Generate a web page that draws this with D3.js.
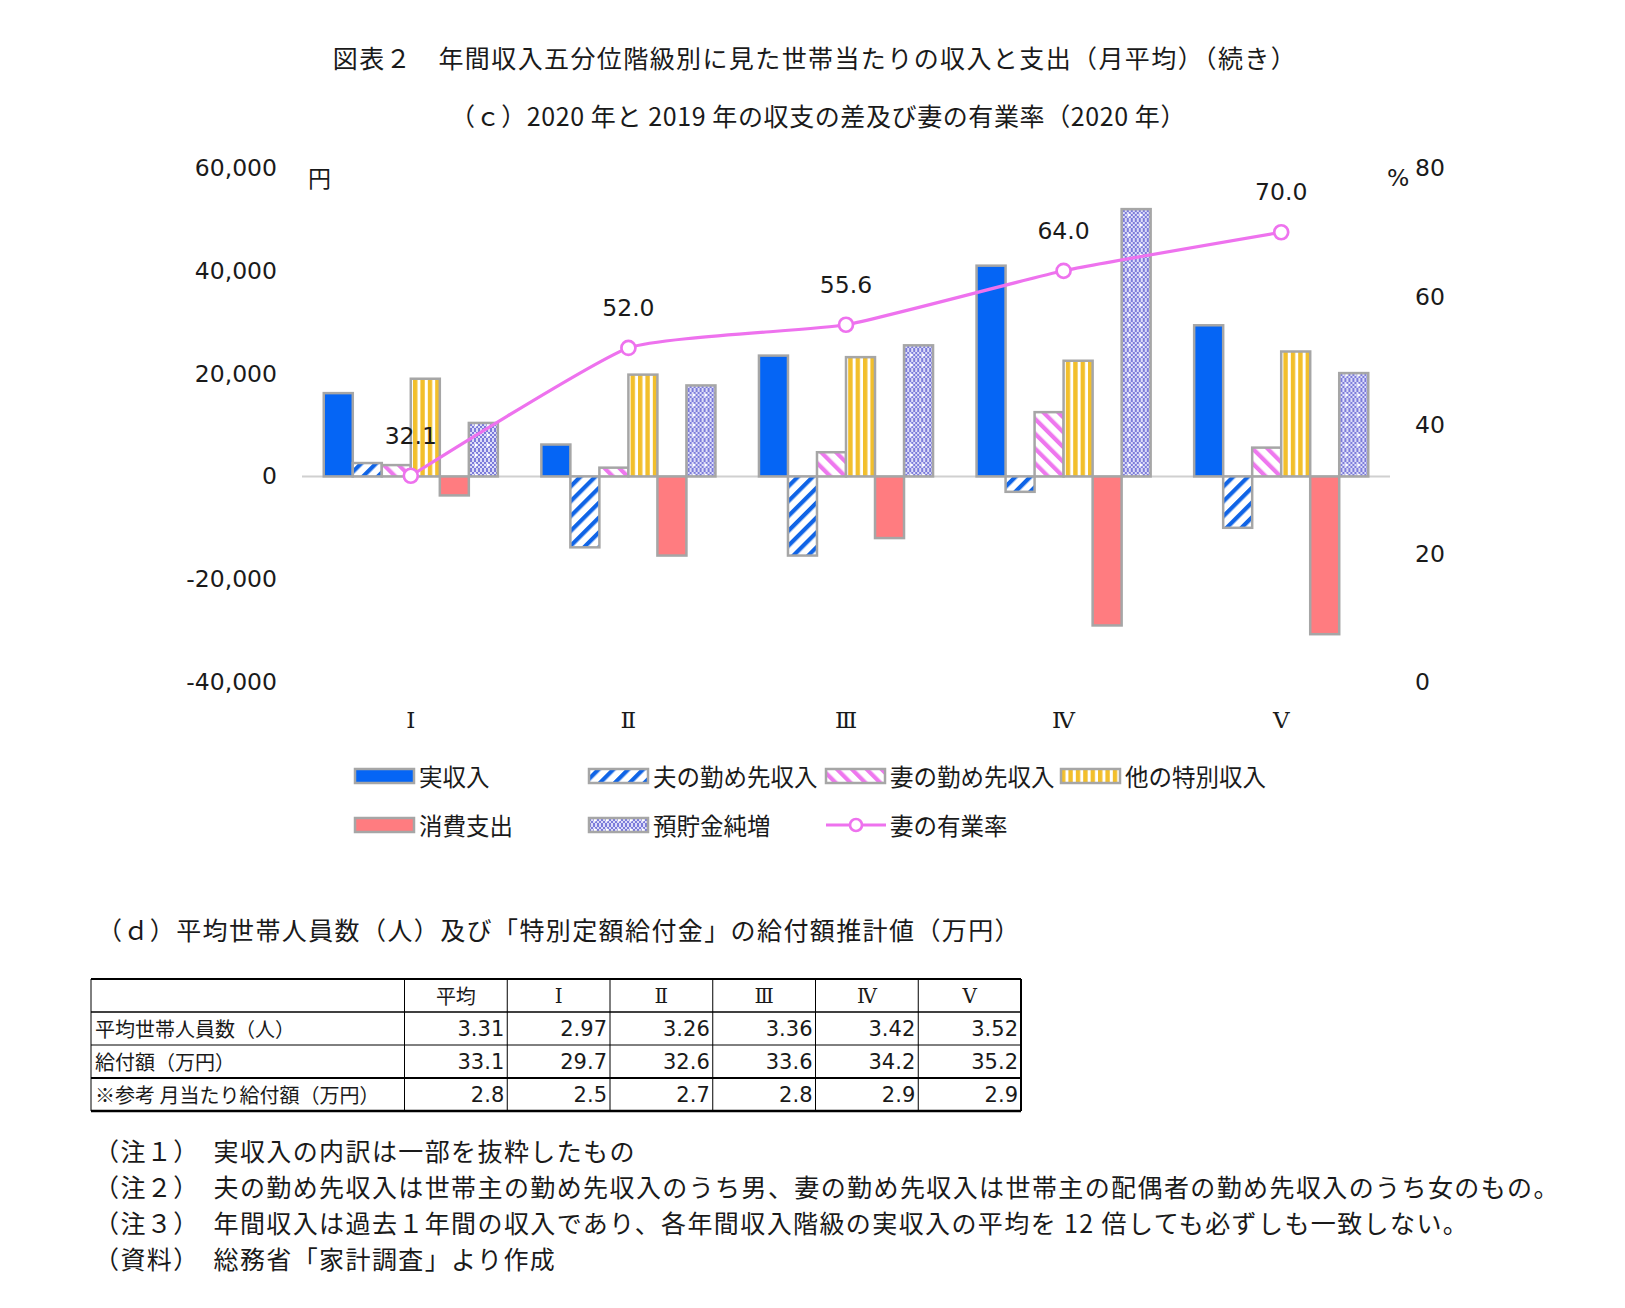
<!DOCTYPE html>
<html lang="ja">
<head>
<meta charset="UTF-8">
<title>図表2 年間収入五分位階級別</title>
<script src="https://d3js.org/d3.v7.min.js"></script>
<style>
    body { margin: 0; background: #fff; }
    svg text { font-family: "Noto Sans CJK JP", sans-serif; fill: #1a1a1a; }
    svg text.num { font-family: "DejaVu Sans", Verdana, sans-serif; }
    svg text.roman { font-family: "DejaVu Serif", "Liberation Serif", serif; }
    svg text.wide { letter-spacing: 1.4px; }
    svg text.mid { letter-spacing: 0.6px; }
</style>
</head>
<body>
<script>
    // --- data ---
    var categories = ["Ⅰ", "Ⅱ", "Ⅲ", "Ⅳ", "Ⅴ"];
    var seriesNames = ["実収入", "夫の勤め先収入", "妻の勤め先収入", "他の特別収入", "消費支出", "預貯金純増"];
    var jitsuShunyu = [16200, 6200, 23500, 41000, 29400];
    var ottoShunyu = [2600, -13800, -15400, -3000, -10000];
    var tsumaShunyu = [2200, 1700, 4700, 12500, 5600];
    var tokubetsuShunyu = [19000, 19800, 23200, 22500, 24300];
    var shohiShishutsu = [-3700, -15400, -12000, -29000, -30700];
    var chokinJunzo = [10400, 17700, 25500, 52000, 20100];
    var yugyoritsu = [32.1, 52.0, 55.6, 64.0, 70.0];
    var lineName = "妻の有業率";
    var yenTicks = [-40000, -20000, 0, 20000, 40000, 60000];
    var pctTicks = [0, 20, 40, 60, 80];

    var tableHeaders = ["平均", "Ⅰ", "Ⅱ", "Ⅲ", "Ⅳ", "Ⅴ"];
    var tableRowLabels = ["平均世帯人員数（人）", "給付額（万円）", "※参考 月当たり給付額（万円）"];
    var setaiJinin = ["3.31", "2.97", "3.26", "3.36", "3.42", "3.52"];
    var kyufugaku = ["33.1", "29.7", "32.6", "33.6", "34.2", "35.2"];
    var tsukiKyufu = ["2.8", "2.5", "2.7", "2.8", "2.9", "2.9"];

    var titles = ["図表２　年間収入五分位階級別に見た世帯当たりの収入と支出（月平均）（続き）",
                  "（ｃ）2020 年と 2019 年の収支の差及び妻の有業率（2020 年）"];
    var tableTitle = "（ｄ）平均世帯人員数（人）及び「特別定額給付金」の給付額推計値（万円）";
    var notes = ["（注１）　実収入の内訳は一部を抜粋したもの",
                 "（注２）　夫の勤め先収入は世帯主の勤め先収入のうち男、妻の勤め先収入は世帯主の配偶者の勤め先収入のうち女のもの。",
                 "（注３）　年間収入は過去１年間の収入であり、各年間収入階級の実収入の平均を 12 倍しても必ずしも一致しない。",
                 "（資料）　総務省「家計調査」より作成"];

    var barSeries = [jitsuShunyu, ottoShunyu, tsumaShunyu, tokubetsuShunyu, shohiShishutsu, chokinJunzo];

    var W = 1625, H = 1308;
    var svg = d3.select("body").append("svg")
        .attr("width", W).attr("height", H)
        .style("background", "#fff");

    // --- patterns ---
    var defs = svg.append("defs");
    function stripes(id, color, angle) {
        var p = defs.append("pattern").attr("id", id)
            .attr("patternUnits", "userSpaceOnUse")
            .attr("width", 10.5).attr("height", 10.5)
            .attr("patternTransform", "rotate(" + angle + ")");
        p.append("rect").attr("width", 10.5).attr("height", 10.5).attr("fill", "#fff");
        p.append("rect").attr("width", 4.2).attr("height", 10.5).attr("fill", color);
    }
    stripes("pOtto", "#1064E6", 45);
    stripes("pTsuma", "#EE77EE", -45);

    var pv = defs.append("pattern").attr("id", "pToku")
        .attr("patternUnits", "userSpaceOnUse").attr("width", 7.4).attr("height", 10);
    pv.append("rect").attr("width", 7.4).attr("height", 10).attr("fill", "#fff");
    pv.append("rect").attr("width", 4.4).attr("height", 10).attr("fill", "#F2BF2C");

    var pc = defs.append("pattern").attr("id", "pChokin")
        .attr("patternUnits", "userSpaceOnUse").attr("width", 12).attr("height", 10);
    pc.append("rect").attr("width", 12).attr("height", 10).attr("fill", "#DCDCF8");
    for (var i = 0; i < 6; i++) {
        for (var j = 0; j < 5; j++) {
            if ((i + j) % 2 === 0) {
                pc.append("rect").attr("x", i * 2).attr("y", j * 2)
                    .attr("width", 2).attr("height", 2).attr("fill", "#7C7CDA");
            }
        }
    }
    pc.append("circle").attr("cx", 6).attr("cy", 5).attr("r", 1.5).attr("fill", "#fff");

    var fills = ["#0565F5", "url(#pOtto)", "url(#pTsuma)", "url(#pToku)", "#FF7C80", "url(#pChokin)"];
    var borderColor = "#A6A6A6";
    var lineColor = "#EE72EE";

    // --- titles ---
    svg.selectAll("text.title").data(titles).enter().append("text")
        .attr("class", function (d, i) { return i === 0 ? "title wide" : "title mid"; })
        .attr("x", function (d, i) { return i === 0 ? 815 : 818; })
        .attr("y", function (d, i) { return i === 0 ? 57 : 115; })
        .attr("text-anchor", "middle")
        .attr("dominant-baseline", "central")
        .style("font-size", "25px")
        .text(function (d) { return d; });

    // --- scales ---
    var plotLeft = 302, plotRight = 1390;
    var x0 = d3.scaleBand().domain(categories).range([plotLeft, plotRight]);
    var x1 = d3.scaleBand().domain(d3.range(seriesNames.length))
        .range([0, x0.bandwidth()]).paddingInner(0).paddingOuter(0.75);
    var y = d3.scaleLinear().domain([-40000, 60000]).range([682, 168]);
    var y2 = d3.scaleLinear().domain([0, 80]).range([682, 168]);

    // left axis
    var fmt = d3.format(",");
    var leftAxis = svg.append("g").attr("transform", "translate(277,0)")
        .call(d3.axisLeft(y).tickValues(yenTicks).tickSize(0).tickPadding(0)
            .tickFormat(function (d) { return fmt(d).replace("\u2212", "-"); }));
    leftAxis.select(".domain").remove();
    leftAxis.selectAll("text").attr("class", "num")
        .style("font-size", "23.5px").attr("fill", "#1a1a1a");

    // right axis
    var rightAxis = svg.append("g").attr("transform", "translate(1415,0)")
        .call(d3.axisRight(y2).tickValues(pctTicks).tickSize(0).tickPadding(0));
    rightAxis.select(".domain").remove();
    rightAxis.selectAll("text").attr("class", "num")
        .style("font-size", "23.5px").attr("fill", "#1a1a1a");

    svg.append("text").attr("x", 308).attr("y", 177)
        .attr("dominant-baseline", "central")
        .style("font-size", "23px").text("円");
    svg.append("text").attr("class", "num").attr("x", 1387).attr("y", 178)
        .attr("dominant-baseline", "central")
        .style("font-size", "23.5px").text("%");

    // zero line
    svg.append("line")
        .attr("x1", plotLeft).attr("x2", plotRight)
        .attr("y1", y(0)).attr("y2", y(0))
        .attr("stroke", "#D0D0D0").attr("stroke-width", 2);

    // bars
    var groups = svg.append("g").selectAll("g").data(categories).enter().append("g")
        .attr("transform", function (d) { return "translate(" + x0(d) + ",0)"; });
    groups.selectAll("rect")
        .data(function (d, ci) {
            return barSeries.map(function (s, si) { return { s: si, v: s[ci] }; });
        })
        .enter().append("rect")
        .attr("x", function (d) { return x1(d.s); })
        .attr("width", x1.bandwidth())
        .attr("y", function (d) { return y(Math.max(0, d.v)); })
        .attr("height", function (d) { return Math.abs(y(d.v) - y(0)); })
        .attr("fill", function (d) { return fills[d.s]; })
        .attr("stroke", borderColor).attr("stroke-width", 2.5);

    // x labels
    svg.selectAll("text.xlab").data(categories).enter().append("text")
        .attr("class", "xlab roman")
        .attr("x", function (d) { return x0(d) + x0.bandwidth() / 2; })
        .attr("y", 720)
        .attr("text-anchor", "middle").attr("dominant-baseline", "central")
        .style("font-size", "23px")
        .text(function (d) { return d; });

    // line
    var cx = function (d, i) { return x0(categories[i]) + x0.bandwidth() / 2; };
    var line = d3.line().x(cx).y(function (d) { return y2(d); }).curve(d3.curveCardinal.tension(0.55));
    svg.append("path").datum(yugyoritsu)
        .attr("d", line).attr("fill", "none")
        .attr("stroke", lineColor).attr("stroke-width", 3.2);
    svg.selectAll("circle.pt").data(yugyoritsu).enter().append("circle")
        .attr("class", "pt")
        .attr("cx", cx).attr("cy", function (d) { return y2(d); })
        .attr("r", 7).attr("fill", "#fff")
        .attr("stroke", lineColor).attr("stroke-width", 2.7);
    svg.selectAll("text.lab").data(yugyoritsu).enter().append("text")
        .attr("class", "num")
        .attr("x", cx).attr("y", function (d) { return y2(d) - 40; })
        .attr("text-anchor", "middle").attr("dominant-baseline", "central")
        .style("font-size", "23.5px")
        .text(function (d) { return d.toFixed(1); });

    // legend
    var legendItems = seriesNames.map(function (n, i) { return { name: n, fill: fills[i], line: false }; });
    legendItems.push({ name: lineName, line: true });
    var legX = [355, 589, 826, 1061], legY = [776, 825];
    var leg = svg.append("g").selectAll("g").data(legendItems).enter().append("g")
        .attr("transform", function (d, i) {
            return "translate(" + legX[i % 4] + "," + legY[Math.floor(i / 4)] + ")";
        });
    leg.filter(function (d) { return !d.line; }).append("rect")
        .attr("x", 0).attr("y", -7).attr("width", 59).attr("height", 14)
        .attr("fill", function (d) { return d.fill; })
        .attr("stroke", borderColor).attr("stroke-width", 2.5);
    var ll = leg.filter(function (d) { return d.line; });
    ll.append("line").attr("x1", 0).attr("x2", 60).attr("y1", 0).attr("y2", 0)
        .attr("stroke", lineColor).attr("stroke-width", 3.2);
    ll.append("circle").attr("cx", 30).attr("cy", 0).attr("r", 6)
        .attr("fill", "#fff").attr("stroke", lineColor).attr("stroke-width", 2.7);
    leg.append("text").attr("x", 64).attr("y", 0)
        .attr("dominant-baseline", "central")
        .style("font-size", "23.5px")
        .text(function (d) { return d.name; });

    // table
    svg.append("text").attr("class", "wide").attr("x", 97).attr("y", 929)
        .attr("dominant-baseline", "central")
        .style("font-size", "25px").text(tableTitle);

    var tLeft = 91, tLabelRight = 404.5, tRight = 1021;
    var tableRows = [setaiJinin, kyufugaku, tsukiKyufu];
    var colX = d3.scaleBand().domain(tableHeaders).range([tLabelRight, tRight]);
    var rowY = d3.scaleBand().domain(d3.range(tableRows.length + 1)).range([979, 1111]);

    var hLines = d3.range(tableRows.length + 2);
    var hWidths = [2, 1.5, 1, 2, 2.5];
    svg.selectAll("line.h").data(hLines).enter().append("line")
        .attr("x1", tLeft).attr("x2", tRight)
        .attr("y1", function (d) { return rowY.range()[0] + d * rowY.step(); })
        .attr("y2", function (d) { return rowY.range()[0] + d * rowY.step(); })
        .attr("stroke", "#000").attr("stroke-width", function (d, i) { return hWidths[i]; });
    var vEdges = [tLeft, tLabelRight].concat(tableHeaders.map(function (h) { return colX(h) + colX.bandwidth(); }));
    svg.selectAll("line.v").data(vEdges).enter().append("line")
        .attr("x1", function (d) { return d; }).attr("x2", function (d) { return d; })
        .attr("y1", rowY.range()[0]).attr("y2", rowY.range()[1])
        .attr("stroke", "#000").attr("stroke-width", function (d, i) { return i === vEdges.length - 1 ? 2 : 1; });

    svg.selectAll("text.th").data(tableHeaders).enter().append("text")
        .attr("class", function (d, i) { return i === 0 ? "th" : "th roman"; })
        .attr("x", function (d) { return colX(d) + colX.bandwidth() / 2; })
        .attr("y", rowY(0) + rowY.bandwidth() / 2)
        .attr("text-anchor", "middle").attr("dominant-baseline", "central")
        .style("font-size", "20px").text(function (d) { return d; });
    svg.selectAll("text.rl").data(tableRowLabels).enter().append("text")
        .attr("x", tLeft + 4)
        .attr("y", function (d, i) { return rowY(i + 1) + rowY.bandwidth() / 2; })
        .attr("dominant-baseline", "central")
        .style("font-size", "20px").text(function (d) { return d; });
    tableRows.forEach(function (row, ri) {
        svg.selectAll("text.r" + ri).data(row).enter().append("text")
            .attr("class", "num")
            .attr("x", function (d, i) { return colX(tableHeaders[i]) + colX.bandwidth() - 3; })
            .attr("y", rowY(ri + 1) + rowY.bandwidth() / 2)
            .attr("text-anchor", "end").attr("dominant-baseline", "central")
            .style("font-size", "21px").text(function (d) { return d; });
    });

    // notes
    svg.selectAll("text.note").data(notes).enter().append("text")
        .attr("class", "note wide")
        .attr("x", 94)
        .attr("y", function (d, i) { return 1150 + i * 36; })
        .attr("dominant-baseline", "central")
        .style("font-size", "25px")
        .text(function (d) { return d; });
</script>
</body>
</html>
